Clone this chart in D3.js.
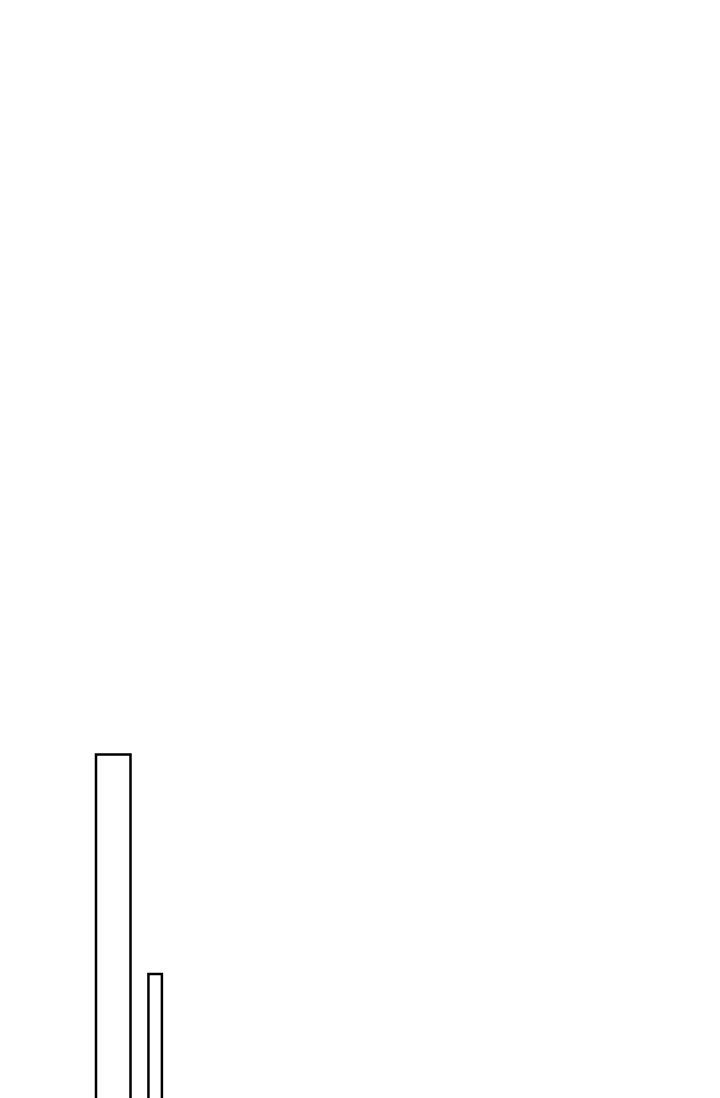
<!DOCTYPE html>
<html>
<head>
<meta charset="utf-8">
<script src="https://cdn.jsdelivr.net/npm/d3@7"></script>
<style>
  html, body { margin: 0; padding: 0; background: #fff; overflow: hidden; }
  svg { display: block; }
</style>
</head>
<body>
<script>
// Data: bars defined by start/end positions and values
const categories = ["A", "B"];
const starts = [0, 15.2];
const ends = [10, 19.1];
const values = [445.5, 226];

const width = 720, height = 1300;

const x = d3.scaleLinear().domain([0, 10]).range([96, 130.5]);
const y = d3.scaleLinear().domain([0, 500]).range([1200, 700]);

const svg = d3.select("body").append("svg")
  .attr("width", width)
  .attr("height", height);

const data = categories.map((c, i) => ({ c, x0: starts[i], x1: ends[i], v: values[i] }));

svg.selectAll("rect.bar")
  .data(data)
  .join("rect")
  .attr("class", "bar")
  .attr("x", d => x(d.x0))
  .attr("width", d => x(d.x1) - x(d.x0))
  .attr("y", d => y(d.v))
  .attr("height", d => y(0) - y(d.v))
  .attr("fill", "#fff")
  .attr("stroke", "#000")
  .attr("stroke-width", 2.5);
</script>
</body>
</html>
